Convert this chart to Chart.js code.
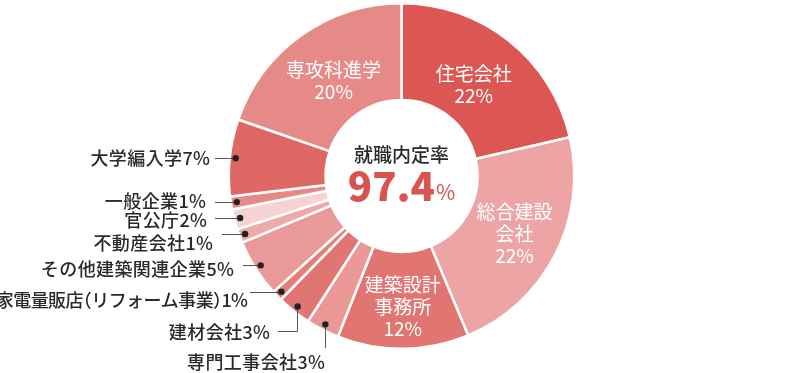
<!DOCTYPE html>
<html>
<head>
<meta charset="utf-8">
<script src="https://cdn.jsdelivr.net/npm/chart.js@4"></script>
<style>
  html, body { margin: 0; padding: 0; background: #fff; }
  #wrap { width: 800px; height: 373px; position: relative; }
</style>
</head>
<body>
<div id="wrap"><canvas id="careerChart"></canvas></div>
<script>
// slices, clockwise from the top
const categories = ['住宅会社', '総合建設会社', '建築設計事務所', '専門工事会社', '建材会社',
    '家電量販店（リフォーム事業）', 'その他建築関連企業', '不動産会社', '官公庁', '一般企業',
    '大学編入学', '専攻科進学'];
const shares = [21.4, 22.3, 12.3, 3.1, 3.2, 1.0, 5.4, 1.3, 1.9, 1.2, 7.2, 19.7];
const shareLabels = ['22%', '22%', '12%', '3%', '3%', '1%', '5%', '1%', '2%', '1%', '7%', '20%'];
const sliceColors = ['#dc5754', '#eca4a4', '#e07572', '#e99896', '#e07572', '#e47f7c',
    '#e99a98', '#eeaaa9', '#f6d3d2', '#e68a87', '#df6764', '#e68a87'];
const centerTitle = '就職内定率';
const centerValue = '97.4';

const jp = '"Noto Sans CJK JP", "Noto Sans", sans-serif';

// labels written inside the ring: index, text lines, radius
const insideLabels = [
    { i: 0, lines: ['住宅会社', '22%'], r: 116 },
    { i: 1, lines: ['総合建設', '会社', '22%'], r: 127 },
    { i: 2, lines: ['建築設計', '事務所', '12%'], r: 131 },
    { i: 11, lines: ['専攻科進学', '20%'], r: 117 }
];

// labels outside with a leader line: text right edge / middle y, line start x
const outsideLabels = [
    { i: 10, tx: 210, ty: 158, lx: 215 },
    { i: 9, tx: 206, ty: 201, lx: 215 },
    { i: 8, tx: 207, ty: 220, lx: 215 },
    { i: 7, tx: 213, ty: 243, lx: 222 },
    { i: 6, tx: 234, ty: 269, lx: 243 },
    { i: 5, tx: 248, ty: 300, lx: 250, sp: -0.6 },
    { i: 4, tx: 270, ty: 332, lx: 278, elbow: true },
    { i: 3, tx: 325, ty: 362, down: 348 }
];

function arcPoint(a, r) {
    const mid = (a.startAngle + a.endAngle) / 2;
    return { x: a.x + Math.cos(mid) * r, y: a.y + Math.sin(mid) * r };
}

// right-aligned text, char by char, with half-width brackets (like palt)
function drawTight(ctx, text, rightX, y, size, spacing) {
    const chars = [...text];
    const adv = chars.map(ch => (ch === '（' || ch === '）') ? size * 0.5 : ctx.measureText(ch).width);
    const total = adv.reduce((s, v) => s + v, 0) + spacing * (chars.length - 1);
    let x = rightX - total;
    ctx.textAlign = 'left';
    chars.forEach((ch, k) => {
        ctx.fillText(ch, ch === '（' ? x - size * 0.5 : x, y);
        x += adv[k] + spacing;
    });
}

const labelPlugin = {
    id: 'labelPlugin',
    afterDraw(chart) {
        const ctx = chart.ctx;
        const arcs = chart.getDatasetMeta(0).data.map(el =>
            el.getProps(['x', 'y', 'startAngle', 'endAngle', 'outerRadius', 'innerRadius'], true));
        ctx.save();

        // inside labels
        ctx.fillStyle = '#fff';
        ctx.font = '400 19px ' + jp;
        ctx.textAlign = 'center';
        ctx.textBaseline = 'middle';
        insideLabels.forEach(l => {
            const p = arcPoint(arcs[l.i], l.r);
            const top = p.y - (l.lines.length - 1) * 11;
            l.lines.forEach((t, k) => ctx.fillText(t, p.x, top + k * 22));
        });

        // outside labels
        ctx.font = '500 18px ' + jp;
        outsideLabels.forEach(l => {
            const a = arcs[l.i];
            const d = arcPoint(a, a.outerRadius - 6);
            ctx.fillStyle = '#2a2a2a';
            drawTight(ctx, categories[l.i] + shareLabels[l.i], l.tx, l.ty, 18, l.sp !== undefined ? l.sp : 0.4);
            ctx.strokeStyle = '#555';
            ctx.lineWidth = 1;
            ctx.beginPath();
            if (l.elbow) {
                ctx.moveTo(l.lx, l.ty - 0.5);
                ctx.lineTo(Math.round(d.x) - 0.5, l.ty - 0.5);
                ctx.lineTo(Math.round(d.x) - 0.5, d.y);
            } else if (l.down) {
                ctx.moveTo(Math.round(d.x) + 0.5, d.y);
                ctx.lineTo(Math.round(d.x) + 0.5, l.down);
            } else {
                ctx.moveTo(l.lx, Math.round(d.y) + 0.5);
                ctx.lineTo(d.x, Math.round(d.y) + 0.5);
            }
            ctx.stroke();
            ctx.fillStyle = '#222';
            ctx.beginPath();
            ctx.arc(d.x, d.y, 3.2, 0, Math.PI * 2);
            ctx.fill();
        });

        // centre text
        const c = arcs[0];
        ctx.textAlign = 'center';
        ctx.fillStyle = '#2a2a2a';
        ctx.font = '500 19px ' + jp;
        ctx.fillText(centerTitle, c.x, c.y - 21);
        ctx.font = '900 40px ' + jp;
        const w1 = ctx.measureText(centerValue).width;
        ctx.font = '400 21px ' + jp;
        const w2 = ctx.measureText('%').width;
        const left = c.x - (w1 + w2 + 1) / 2;
        ctx.textAlign = 'left';
        ctx.fillStyle = '#d9534f';
        ctx.font = '900 40px ' + jp;
        ctx.fillText(centerValue, left, c.y + 10);
        ctx.font = '400 21px ' + jp;
        ctx.fillText('%', left + w1 + 1, c.y + 16);
        ctx.restore();
    }
};

new Chart(document.getElementById('careerChart').getContext('2d'), {
    type: 'doughnut',
    data: {
        labels: categories,
        datasets: [{
            data: shares,
            backgroundColor: sliceColors,
            borderColor: '#fff',
            borderWidth: 2.5,
            hoverOffset: 0
        }]
    },
    options: {
        responsive: true,
        maintainAspectRatio: false,
        animation: false,
        cutout: '44%',
        layout: { padding: { top: 2, bottom: 23, left: 3, right: 0 } },
        plugins: {
            legend: { display: false },
            tooltip: { enabled: false }
        }
    },
    plugins: [labelPlugin]
});
</script>
</body>
</html>
